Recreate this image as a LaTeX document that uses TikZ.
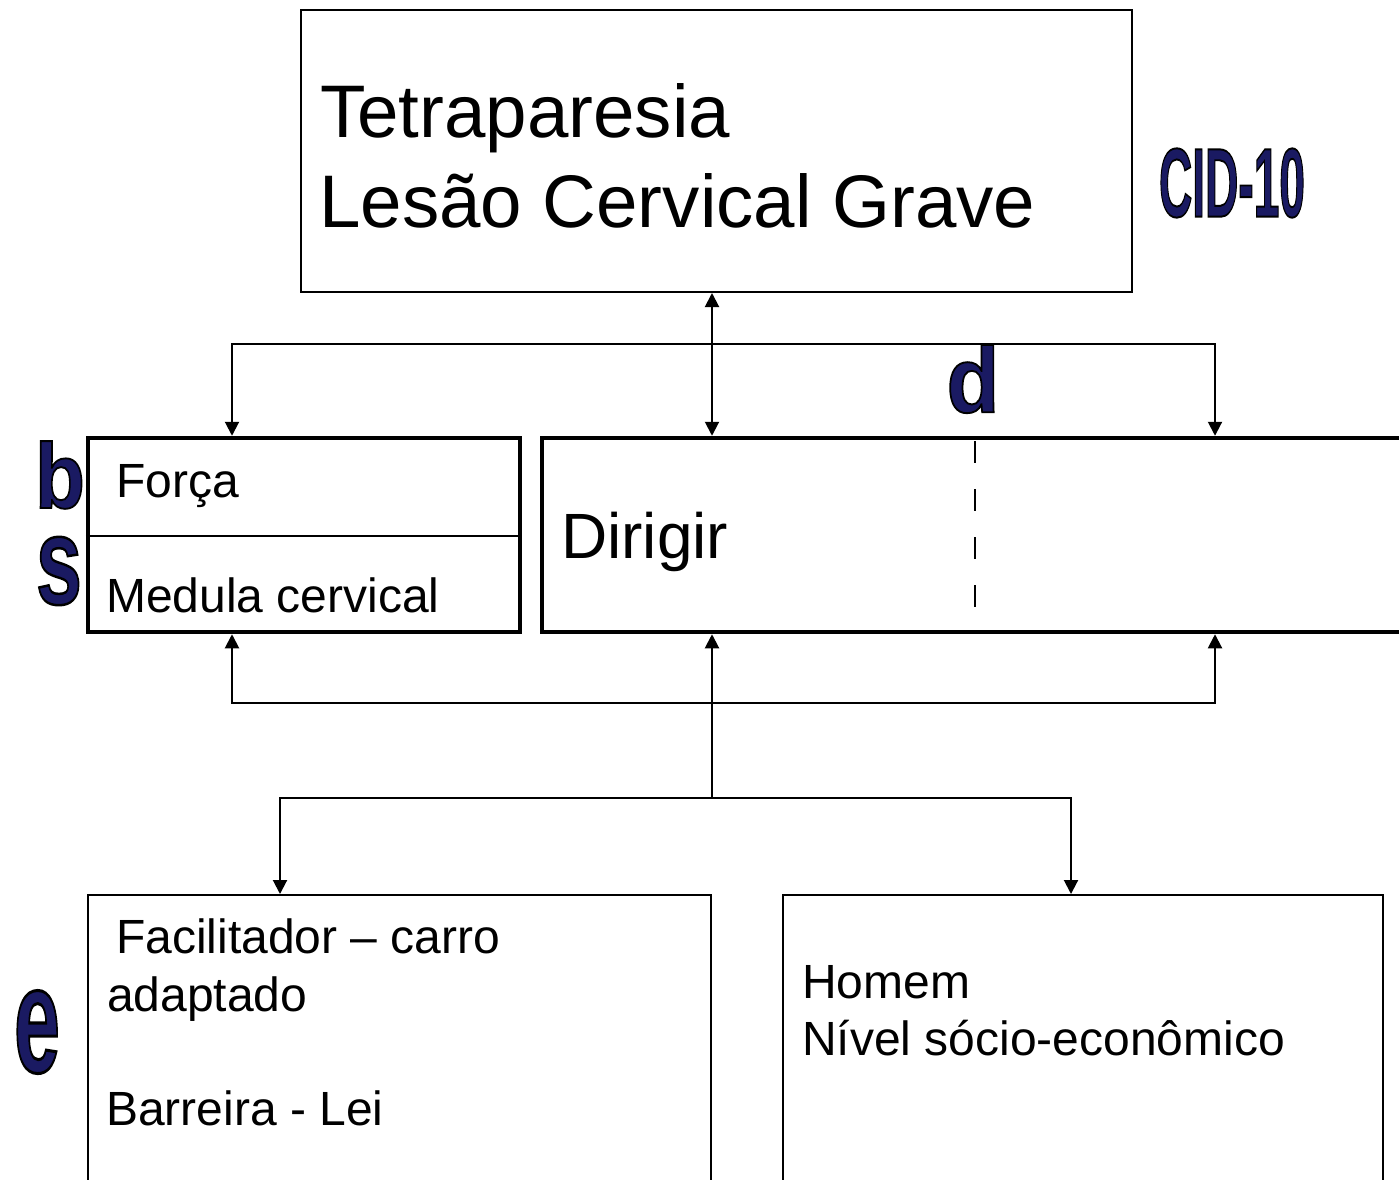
\documentclass[tikz,border=0pt]{standalone}
\usepackage{fontspec}
\usepackage{graphicx}
\setmainfont{Liberation Sans}
\newfontfamily\heavyfont[FakeBold=2]{Liberation Sans Bold}
\usetikzlibrary{arrows.meta}

\definecolor{icfnavy}{RGB}{26,26,98}
% navy letter with a black outline (fill/stroke colours set apart)
\newcommand{\icfletter}[3]{\scalebox{#1}[#2]{\heavyfont\fontsize{96}{96}\selectfont
  \special{pdf:bcolor [0.102 0.102 0.384] [0 0 0]}#3\special{pdf:ecolor}}}

\tikzset{
  thinbox/.style={draw, rectangle, line width=2pt, inner sep=0pt, anchor=north west},
  thickbox/.style={draw, rectangle, line width=4.5pt, inner sep=0pt, anchor=north west},
  txt/.style={anchor=base west, inner sep=0pt},
  bigtext/.style={txt, font=\fontsize{74.5}{90}\selectfont},
  midtext/.style={txt, font=\fontsize{48}{58}\selectfont},
  letter/.style={inner sep=0pt},
  conn/.style={line width=2pt},
  arrowline/.style={conn, -{Triangle[length=14pt,width=14pt]}},
  dblarrow/.style={conn, {Triangle[length=14pt,width=14pt]}-{Triangle[length=14pt,width=14pt]}},
}

\begin{document}
\begin{tikzpicture}[x=1pt,y=-1pt]
  \useasboundingbox (0,0) rectangle (1399,1179);
  % boxes
  \node[thinbox, minimum width=831pt, minimum height=282pt] (icd) at (300,9) {};
  \node[thickbox, minimum width=432pt, minimum height=194pt] (body) at (85.75,435.75) {};
  \node[thickbox, minimum width=900pt, minimum height=194pt] (act) at (539.75,435.75) {};
  \node[thinbox, minimum width=623pt, minimum height=320pt] (env) at (87,894) {};
  \node[thinbox, minimum width=600pt, minimum height=320pt] (pers) at (782,894) {};
  \draw[line width=1.5pt] (body.west |- 0,536) -- (body.east |- 0,536);
  \draw[line width=2pt, dash pattern=on 22pt off 26pt] (975,441) -- (975,607);

  % texts
  \node[bigtext] (tetra) at (320,137) {Tetraparesia};
  \node[bigtext] (lesao) at (319,227) {Lesão Cervical Grave};
  \node[midtext] (forca) at (116,497) {Força};
  \node[midtext] (medula) at (106,612) {Medula cervical};
  \node[txt, font=\fontsize{64}{70}\selectfont] (dirigir) at (561,558) {Dirigir};
  \node[midtext] (facil) at (116,953) {Facilitador – carro};
  \node[midtext] (adapt) at (107,1011) {adaptado};
  \node[midtext] (barr) at (106,1125) {Barreira - Lei};
  \node[midtext] (homem) at (802,998) {Homem};
  \node[midtext] (nivel) at (802,1055) {Nível sócio-econômico};

  % component letters
  \node[letter] (bletter) at (60,475) {\icfletter{0.85}{0.96}{b}};
  \node[letter] (sletter) at (59,571) {\icfletter{0.86}{1.3}{s}};
  \node[letter] (dletter) at (973,379) {\icfletter{0.9}{0.97}{d}};
  \node[letter] (eletter) at (37,1032) {\icfletter{0.86}{1.58}{e}};
  \node[letter] (cid) at (1232,183) {\icfletter{0.48}{1.02}{CID-10}};

  % connectors
  \coordinate (topL) at (232,344);
  \coordinate (topR) at (1215,344);
  \coordinate (botL) at (232,703);
  \coordinate (botR) at (1215,703);
  \coordinate (fork) at (712,798);
  \coordinate (envT) at (280,798);
  \coordinate (perT) at (1071,798);
  \draw[dblarrow] (topL |- body.north) -- (topL) -- (topR) -- (topR |- act.north);
  \draw[dblarrow] (icd.south -| fork) -- (act.north -| fork);
  \draw[dblarrow] (botL |- body.south) -- (botL) -- (botR) -- (botR |- act.south);
  \draw[arrowline] (fork) -- (act.south -| fork);
  \draw[dblarrow] (envT |- env.north) -- (envT) -- (perT) -- (perT |- pers.north);
\end{tikzpicture}
\end{document}
